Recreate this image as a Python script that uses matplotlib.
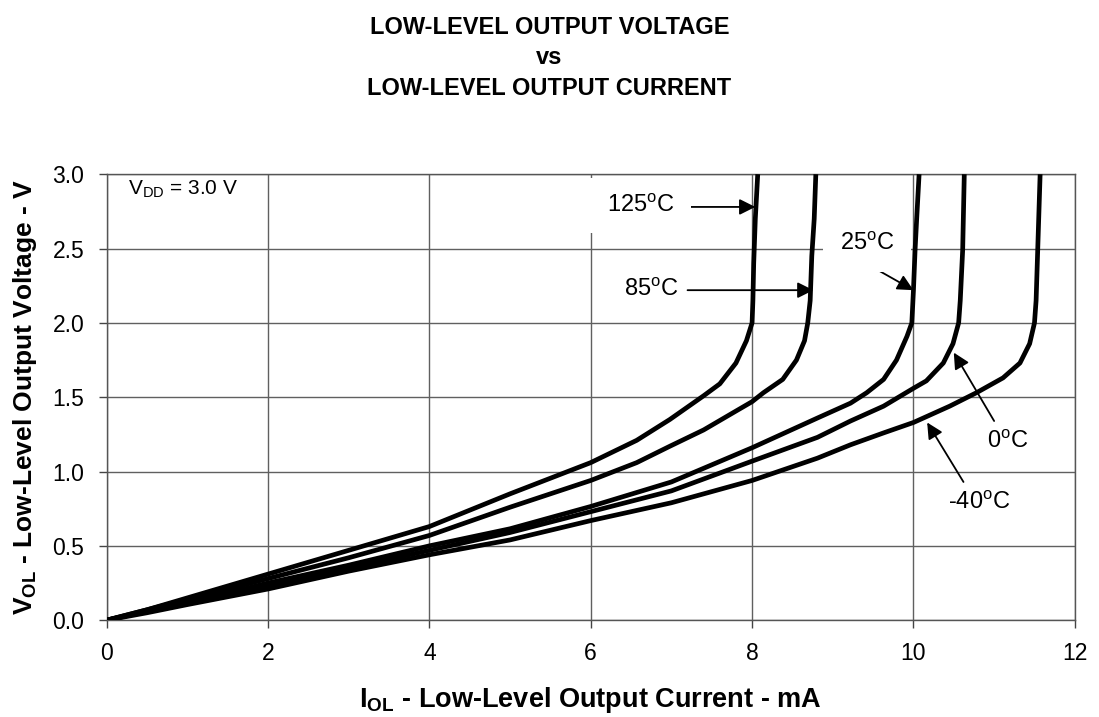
import matplotlib.pyplot as plt

plt.rcParams['font.family'] = ['Liberation Sans', 'DejaVu Sans']

# output current (mA) vs output voltage (V), one pair per temperature
i_125 = [0, 0.5, 1, 2, 3, 4, 5, 6, 6.57, 6.98, 7.4, 7.6, 7.8, 7.93, 8.0, 8.01, 8.02, 8.04, 8.07]
v_125 = [0, 0.07, 0.15, 0.31, 0.47, 0.63, 0.85, 1.06, 1.21, 1.35, 1.51, 1.59, 1.73, 1.88, 2.0, 2.15, 2.4, 2.7, 3.0]

i_85 = [0, 0.5, 1, 2, 3, 4, 5, 6, 6.57, 6.98, 7.4, 7.81, 8.0, 8.14, 8.38, 8.55, 8.65, 8.69,
        8.72, 8.74, 8.77, 8.79]
v_85 = [0, 0.07, 0.14, 0.28, 0.42, 0.57, 0.76, 0.94, 1.06, 1.17, 1.28, 1.41, 1.47, 1.53, 1.62,
        1.75, 1.88, 2.0, 2.15, 2.45, 2.7, 3.0]

i_25 = [0, 0.5, 1, 2, 3, 4, 5, 6, 7, 8, 8.81, 9.22, 9.42, 9.63, 9.79, 9.92, 9.98, 10.0,
        10.02, 10.04, 10.07]
v_25 = [0, 0.06, 0.12, 0.25, 0.37, 0.5, 0.615, 0.765, 0.93, 1.16, 1.36, 1.46, 1.53, 1.62,
        1.75, 1.91, 2.0, 2.22, 2.49, 2.7, 3.0]

i_0 = [0, 0.5, 1, 2, 3, 4, 5, 6, 7, 8, 8.81, 9.22, 9.63, 10.0, 10.16, 10.37, 10.49, 10.56,
       10.58, 10.61, 10.63]
v_0 = [0, 0.06, 0.115, 0.23, 0.35, 0.47, 0.59, 0.73, 0.87, 1.07, 1.23, 1.34, 1.44, 1.56,
       1.61, 1.73, 1.86, 2.0, 2.15, 2.49, 3.0]

i_m40 = [0, 0.5, 1, 2, 3, 4, 5, 6, 7, 8, 8.81, 9.22, 9.63, 10.0, 10.45, 10.78, 11.11, 11.32,
         11.44, 11.50, 11.52, 11.54, 11.57]
v_m40 = [0, 0.05, 0.105, 0.21, 0.33, 0.44, 0.54, 0.67, 0.79, 0.94, 1.09, 1.18, 1.26, 1.33,
         1.44, 1.53, 1.63, 1.73, 1.86, 2.0, 2.15, 2.49, 3.0]

curves = [(i_125, v_125), (i_85, v_85), (i_25, v_25), (i_0, v_0), (i_m40, v_m40)]

x_ticks = [0, 2, 4, 6, 8, 10, 12]
y_ticks = [0.0, 0.5, 1.0, 1.5, 2.0, 2.5, 3.0]

fig = plt.figure(figsize=(10.99, 7.17), dpi=100)
ax = fig.add_axes([0.097, 0.135, 0.881, 0.622])

for i_ol, v_ol in curves:
    ax.plot(i_ol, v_ol, color='black', lw=3.4, solid_joinstyle='round',
            solid_capstyle='butt', zorder=3)

ax.set_xlim(0, 12)
ax.set_ylim(0, 3.0)
ax.set_xticks(x_ticks)
ax.set_yticks(y_ticks)
ax.set_xticklabels([str(t) for t in x_ticks])
ax.set_yticklabels(['%.1f' % t for t in y_ticks])
ax.tick_params(direction='out', length=6, width=1, labelsize=16.5, color='#444444')
ax.tick_params(axis='x', pad=10)
ax.tick_params(axis='y', pad=10)
ax.grid(True, color='#606060', lw=1)
ax.set_axisbelow(True)
for s in ax.spines.values():
    s.set_color('#555555')
    s.set_linewidth(1)

ax.set_xlabel(r'I$\mathregular{_{OL}}$ - Low-Level Output Current - mA',
              fontsize=19.5, fontweight='bold', labelpad=14)
ax.set_ylabel(r'V$\mathregular{_{OL}}$ - Low-Level Output Voltage - V',
              fontsize=19, fontweight='bold', labelpad=10)

# titles
fig.text(0.5, 0.962, 'LOW-LEVEL OUTPUT VOLTAGE', ha='center', va='center',
         fontsize=17, fontweight='bold')
fig.text(0.5, 0.920, 'vs', ha='center', va='center', fontsize=17, fontweight='bold')
fig.text(0.5, 0.876, 'LOW-LEVEL OUTPUT CURRENT', ha='center', va='center',
         fontsize=17, fontweight='bold')

ax.text(0.26, 2.9, r'V$\mathregular{_{DD}}$ = 3.0 V', fontsize=15,
        ha='left', va='center')

box = dict(facecolor='white', edgecolor='none', pad=12)
small_box = dict(facecolor='white', edgecolor='none', pad=4)
arrow = dict(arrowstyle='-|>', color='black', lw=1.3, mutation_scale=24,
             shrinkA=0, shrinkB=0)

ax.annotate('', xy=(8.04, 2.78), xytext=(7.2, 2.78), arrowprops=arrow)
ax.text(6.62, 2.79, r'125$\mathregular{^o}$C', fontsize=17, ha='center',
        va='center', bbox=box, zorder=4)

ax.annotate('', xy=(8.76, 2.22), xytext=(7.2, 2.22), arrowprops=arrow)
ax.text(6.75, 2.22, r'85$\mathregular{^o}$C', fontsize=17, ha='center',
        va='center', bbox=small_box, zorder=4)

ax.annotate('', xy=(10.0, 2.22), xytext=(9.38, 2.41), arrowprops=arrow)
ax.text(9.43, 2.53, r'25$\mathregular{^o}$C', fontsize=17, ha='center',
        va='center', bbox=box, zorder=4)

ax.annotate('', xy=(10.5, 1.80), xytext=(11.0, 1.34), arrowprops=arrow)
ax.text(11.17, 1.20, r'0$\mathregular{^o}$C', fontsize=17, ha='center',
        va='center', bbox=small_box, zorder=4)

ax.annotate('', xy=(10.17, 1.33), xytext=(10.62, 0.93), arrowprops=arrow)
ax.text(10.82, 0.79, r'-40$\mathregular{^o}$C', fontsize=17, ha='center',
        va='center', bbox=small_box, zorder=4)

fig.savefig('out.png', dpi=100)
